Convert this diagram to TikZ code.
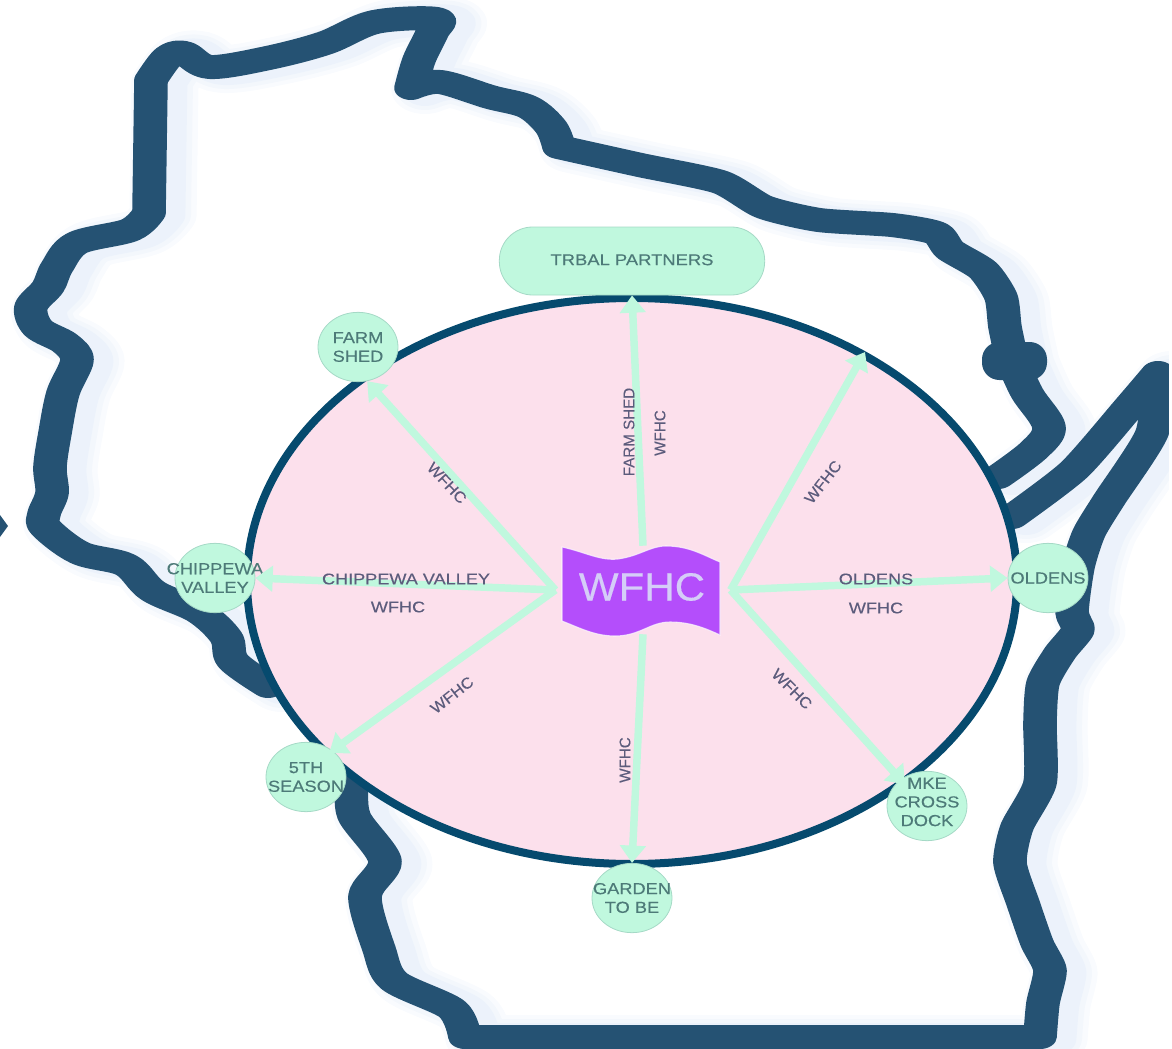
\documentclass[tikz,border=0pt]{standalone}
\usepackage{fontspec}
\setmainfont[FakeStretch=1.07]{Liberation Sans}
\newfontfamily\hfont[FakeStretch=1.17,FakeBold=.25]{Liberation Sans}
\newfontfamily\vfont[FakeStretch=.98,FakeBold=.25]{Liberation Sans}
\newfontfamily\dfont[FakeStretch=1.07,FakeBold=.25]{Liberation Sans}
\newfontfamily\cfont[FakeStretch=1.14,FakeBold=.25]{Liberation Sans}
\newfontfamily\bigfont[FakeStretch=1.07,FakeBold=.3]{Liberation Sans}
\usetikzlibrary{shapes.geometric,arrows.meta}
\definecolor{wisc}{HTML}{255273}
\definecolor{rim}{HTML}{064A6E}
\definecolor{blush}{HTML}{FCE0EC}
\definecolor{mint}{HTML}{C0F8DE}
\definecolor{mintline}{HTML}{A5D9C6}
\definecolor{flagc}{HTML}{B44EFB}
\definecolor{nodetxt}{HTML}{4D7A78}
\definecolor{edgetxt}{HTML}{5C5C7C}
\definecolor{hubtxt}{HTML}{D5CDF8}
\definecolor{haze}{HTML}{C4D8F2}
\tikzset{
  circ/.style={ellipse,fill=mint,draw=mintline,line width=.6pt,minimum width=60pt,minimum height=52pt,inner sep=0pt},
  circtxt/.style={text=nodetxt,font=\cfont\fontsize{12}{14}\selectfont,align=center,inner sep=0pt},
  hlbl/.style={text=edgetxt,font=\hfont\fontsize{11.6}{14}\selectfont,inner sep=0pt},
  vlbl/.style={text=edgetxt,font=\vfont\fontsize{11.6}{14}\selectfont,inner sep=0pt,rotate=90},
  dlbl/.style={text=edgetxt,font=\dfont\fontsize{11.6}{14}\selectfont,inner sep=0pt},
  conn/.style={draw=mint,line width=5.6pt,-{Triangle[width=19pt,length=13pt]}},
  outl/.style={line width=18pt,line cap=round,line join=round},
}
\def\wiscpath{
  plot[smooth,tension=.55] coordinates {(268,686)(233,661)(226,637)(199,612)(153,591)(126,565)(80,553)(46,528)(44,514)(52,493)(50,467)(55,433)(63,393)(77,360)(65,343)(38,328)(31,307)(48,287)(57,267)(77,243)(130,230)(149,213)}
  plot coordinates {(149,213)(151,80)}
  plot[smooth,tension=.55] coordinates {(151,80)(168,57)(184,53)(210,67)(268,58)(325,43)(375,22)(436,19)(432,33)(419,60)(411,88)}
  plot[smooth,tension=.55] coordinates {(411,88)(440,82)(490,97)(528,107)(551,127)(559,147)}
  plot[smooth,tension=.4] coordinates {(559,147)(640,165)(720,182)(764,207)(819,220)(892,225)(936,233)(950,250)(983,270)(1001,297)(1005,327)(1012,360)}
  plot[smooth,tension=.55] coordinates {(1012,360)(1027,393)(1049,427)(1034,450)(998,477)}
  plot[smooth,tension=.4] coordinates {(1012,517)(1074,470)(1129,407)(1158,373)}
  plot[smooth,tension=.4] coordinates {(1158,373)(1152,433)(1109,500)(1089,533)(1078,567)(1072,612)(1078,630)(1060,653)(1043,683)(1040,723)(1040,783)(1017,827)(1010,863)(1023,903)(1037,943)(1050,970)(1043,1003)(1040,1037)}
  plot coordinates {(1040,1037)(465,1037)}
  plot[smooth,tension=.5] coordinates {(465,1037)(452,1009)(394,981)(379,949)(365,896)(385,861)(354,816)(352,781)}
}
\begin{document}
\begin{tikzpicture}[x=.75pt,y=-.75pt]
\useasboundingbox (0,0) rectangle (1172,1049);
% soft haze beside the outline
\begin{scope}[transform canvas={xscale=1.4},x=.5357pt,y=-.75pt]
  \foreach \w/\o in {36/.10,30/.12,24/.14}{
    \draw[haze,opacity=\o,line width=\w pt,line cap=round,line join=round,shift={(14,2)}] \wiscpath;
  }
  \draw[wisc,outl] \wiscpath;
\end{scope}
\fill[wisc,rounded corners=13pt] (982,342) rectangle (1047,380);
\fill[white] (1169,0) rectangle (1172,1049);
\fill[wisc] (0,515) -- (8,526) -- (0,537) -- cycle;
% big ellipse
\node[ellipse,draw=rim,fill=blush,line width=6pt,minimum width=577.5pt,minimum height=424.5pt,inner sep=0pt] (oval) at (632,581) {};
% hub and satellites
\node[minimum width=131pt,minimum height=66pt,inner sep=0pt] (hub) at (643,590) {};
\node[rounded corners=25pt,rectangle,fill=mint,draw=mintline,line width=.6pt,minimum width=199pt,minimum height=51pt,inner sep=0pt,text=nodetxt,font=\hfont\fontsize{11.8}{14}\selectfont] (trib) at (632,261) {\raisebox{2pt}{TRBAL PARTNERS}};
\node[circ,label={[circtxt]center:FARM\\SHED}] (farm) at (358,347) {};
\node[circ,label={[circtxt]center:CHIPPEWA\\VALLEY}] (chip) at (215,578) {};
\node[circ,label={[circtxt]center:5TH\\SEASON}] (fifth) at (306,777) {};
\node[circ,label={[circtxt]center:GARDEN\\TO BE}] (gard) at (632,898) {};
\node[circ,label={[circtxt,yshift=3pt]center:MKE\\CROSS\\DOCK}] (mke) at (927,806) {};
\node[circ,label={[circtxt]center:OLDENS}] (old) at (1048,578) {};
\coordinate (netip) at (865,352);
% connectors
\draw[conn] (hub.west) -- (chip.east);
\draw[conn] (hub.west) -- (farm.285);
\draw[conn,shorten >=-3pt] (hub.west) -- (fifth.45);
\draw[conn] (hub.north) -- (trib.south);
\draw[conn] (hub.east) -- (netip);
\draw[conn] (hub.east) -- (old.west);
\draw[conn,shorten >=-5pt] (hub.east) -- (mke.135);
\draw[conn] (hub.south) -- (gard.north);
% flag
\filldraw[fill=flagc,draw=white,line width=.8pt,draw opacity=.7] (562,547) .. controls (585,552) and (600,561) .. (618,559) .. controls (640,556) and (650,546) .. (666,546) .. controls (690,546) and (705,556) .. (720,562) -- (720,635) .. controls (705,628) and (690,622) .. (670,622) .. controls (650,622) and (640,636) .. (615,636) .. controls (595,636) and (580,628) .. (562,621) -- cycle;
\node[text=hubtxt,font=\bigfont\fontsize{29.5}{32}\selectfont,inner sep=0pt] (hubname) at (642,587) {WFHC};
% edge labels
\node[vlbl] (l1) at (629,432) {FARM SHED};
\node[vlbl] (l2) at (660,433) {WFHC};
\node[dlbl,rotate=52] (l3) at (823,482) {WFHC};
\node[dlbl,rotate=-47] (l4) at (447,483) {WFHC};
\node[hlbl] (l5) at (406,579) {CHIPPEWA VALLEY};
\node[hlbl] (l6) at (398,607) {WFHC};
\node[hlbl] (l7) at (876,579) {OLDENS};
\node[hlbl] (l8) at (876,608) {WFHC};
\node[dlbl,rotate=38] (l9) at (452,695) {WFHC};
\node[vlbl] (l10) at (625,760) {WFHC};
\node[dlbl,rotate=-45] (l11) at (792,689) {WFHC};
\end{tikzpicture}
\end{document}
